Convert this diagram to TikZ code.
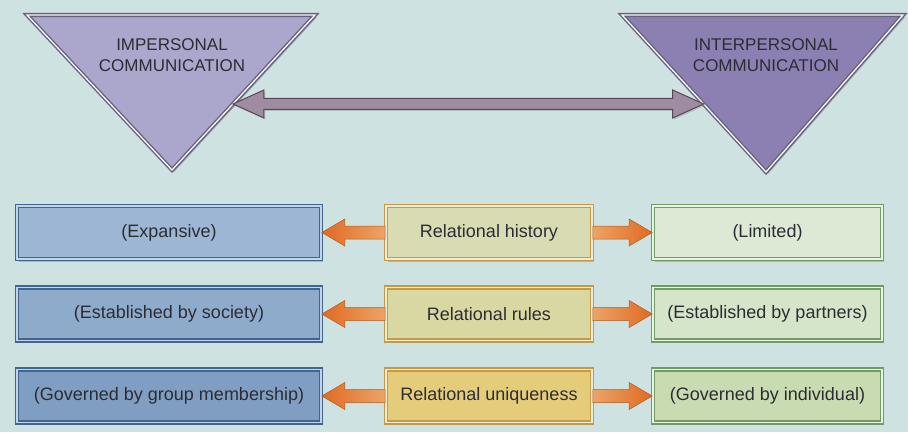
\documentclass[tikz,border=0pt]{standalone}
\usepackage{fontspec}
\setmainfont{Liberation Sans}
\usetikzlibrary{calc,shadows}

\definecolor{bgteal}{HTML}{CFE2E2}
\definecolor{inkgray}{HTML}{2C2C34}
% triangles
\definecolor{triL}{HTML}{ABA7CC}
\definecolor{triR}{HTML}{8C80B2}
\definecolor{triedge}{HTML}{66627E}
% left column
\definecolor{blueA}{HTML}{9DB6D3}
\definecolor{blueB}{HTML}{8FABCB}
\definecolor{blueC}{HTML}{809EC2}
\definecolor{blueedge}{HTML}{3E6690}
% middle column
\definecolor{goldA}{HTML}{D9DCB2}
\definecolor{goldB}{HTML}{DAD8A2}
\definecolor{goldC}{HTML}{E4CC7A}
\definecolor{goldedge}{HTML}{C49A44}
% right column
\definecolor{greenA}{HTML}{DCE9D4}
\definecolor{greenB}{HTML}{D5E5C9}
\definecolor{greenC}{HTML}{C9DCB1}
\definecolor{greenedge}{HTML}{6E9C62}
% arrows
\definecolor{orangeTip}{HTML}{E06A22}
\definecolor{orangeTail}{HTML}{ECA466}
\definecolor{orangeEdge}{HTML}{B45A22}
\definecolor{mauve}{HTML}{A08CA2}
\definecolor{mauveEdge}{HTML}{574858}

\tikzset{
  cell/.style={line width=1.6pt, double distance=1.4pt, minimum height=53,
    inner sep=0pt, text=inkgray, font=\fontsize{18}{20}\selectfont,
    drop shadow={shadow xshift=2pt, shadow yshift=-2.5pt, opacity=0.45}},
  leftcell/.style={cell, draw=blueedge, double=blueA!60!white, minimum width=304},
  midcell/.style={cell, draw=goldedge, double=goldA!50!white, minimum width=206},
  rightcell/.style={cell, draw=greenedge, double=greenA!60!white, minimum width=229},
  tri/.style={draw=triedge, line width=1.4pt, double=white!90!triL, double distance=1.3pt, line join=miter},
  trilabel/.style={align=center, text=inkgray, font=\fontsize{17}{21}\selectfont},
  toleft/.style={draw=orangeEdge, line width=0.5pt, left color=orangeTip, right color=orangeTail},
  toright/.style={draw=orangeEdge, line width=0.5pt, left color=orangeTail, right color=orangeTip},
  linkbar/.style={fill=mauve, draw=mauveEdge, line width=1pt, line join=miter,
    drop shadow={shadow xshift=1.5pt, shadow yshift=-1.5pt, opacity=0.35}},
}

% horizontal block arrow from #2 to #3 (tip at #3)
\newcommand{\blockarrow}[3]{%
  \path[#1] let \p1=(#2), \p2=(#3), \n1={ifthenelse(\x1>\x2,1,-1)} in
    (\x1,{\y1+6.5pt}) -- ({\x2+\n1*23pt},{\y1+6.5pt}) -- ({\x2+\n1*23pt},{\y1+13.5pt})
    -- (\x2,\y1) -- ({\x2+\n1*23pt},{\y1-13.5pt}) -- ({\x2+\n1*23pt},{\y1-6.5pt})
    -- (\x1,{\y1-6.5pt}) -- cycle;}

\begin{document}
\begin{tikzpicture}[x=1pt,y=-1pt]
  \fill[bgteal] (0,0) rectangle (908,432);
  \useasboundingbox (0,0) rectangle (908,432);

  % the two communication triangles
  \coordinate (lt-a) at (27,15);
  \coordinate (lt-b) at (315,15);
  \coordinate (lt-c) at (172,170);
  \coordinate (rt-a) at (622,15);
  \coordinate (rt-b) at (903,15);
  \coordinate (rt-c) at (766,172);
  \fill[black, opacity=0.25] ($(lt-a)+(2,2)$) -- ($(lt-b)+(2,2)$) -- ($(lt-c)+(2,2)$) -- cycle;
  \fill[black, opacity=0.25] ($(rt-a)+(2,2)$) -- ($(rt-b)+(2,2)$) -- ($(rt-c)+(2,2)$) -- cycle;
  \path[tri, fill=triL] (lt-a) -- (lt-b) -- (lt-c) -- cycle;
  \path[tri, fill=triR] (rt-a) -- (rt-b) -- (rt-c) -- cycle;
  \node[trilabel] (imp) at (172,55) {IMPERSONAL\\COMMUNICATION};
  \node[trilabel] (inter) at (766,55) {INTERPERSONAL\\COMMUNICATION};

  % continuum between them
  \coordinate (lt-edge) at ($(lt-b)!0.574!(lt-c)$);
  \coordinate (rt-edge) at ($(rt-a)!0.567!(rt-c)$);
  \path[linkbar] let \p1=(lt-edge), \p2=(rt-edge) in
    (\x1,\y1) -- ({\x1+31pt},{\y1+14pt}) -- ({\x1+31pt},{\y1+5.5pt})
    -- ({\x2-31pt},{\y1+5.5pt}) -- ({\x2-31pt},{\y1+14pt}) -- (\x2,\y1)
    -- ({\x2-31pt},{\y1-14pt}) -- ({\x2-31pt},{\y1-5.5pt})
    -- ({\x1+31pt},{\y1-5.5pt}) -- ({\x1+31pt},{\y1-14pt}) -- cycle;

  % dimensions
  \node[leftcell, fill=blueA] (l1) at (169,232.5) {(Expansive)};
  \node[midcell, fill=goldA] (m1) at (489,232.5) {Relational history};
  \node[rightcell, fill=greenA] (r1) at (767.5,232.5) {(Limited)};

  \node[leftcell, fill=blueB] (l2) at (169,314) {(Established by society)};
  \node[midcell, fill=goldB] (m2) at (489,314) {Relational rules};
  \node[rightcell, fill=greenB] (r2) at (767.5,314) {(Established by partners)};

  \node[leftcell, fill=blueC] (l3) at (169,396) {(Governed by group membership)};
  \node[midcell, fill=goldC] (m3) at (489,396) {Relational uniqueness};
  \node[rightcell, fill=greenC] (r3) at (767.5,396) {(Governed by individual)};

  \foreach \i in {1,2,3}{
    \blockarrow{toleft}{m\i.west}{l\i.east}
    \blockarrow{toright}{m\i.east}{r\i.west}
  }
\end{tikzpicture}
\end{document}
